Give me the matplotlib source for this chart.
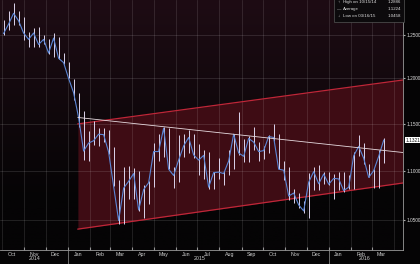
import matplotlib
matplotlib.use("Agg")
import matplotlib.pyplot as plt
import matplotlib.dates as mdates
from matplotlib.patches import Rectangle
import numpy as np
import pandas as pd

plt.rcParams["font.family"] = ["Liberation Sans", "DejaVu Sans"]

# ---- data (EUR/USD weekly) ----
week_end = ["2014-10-03","2014-10-10","2014-10-17","2014-10-24","2014-10-31",
            "2014-11-07","2014-11-14","2014-11-21","2014-11-28",
            "2014-12-05","2014-12-12","2014-12-19","2014-12-26","2015-01-02",
            "2015-01-09","2015-01-16","2015-01-23","2015-01-30",
            "2015-02-06","2015-02-13","2015-02-20","2015-02-27",
            "2015-03-06","2015-03-13","2015-03-20","2015-03-27",
            "2015-04-03","2015-04-10","2015-04-17","2015-04-24",
            "2015-05-01","2015-05-08","2015-05-15","2015-05-22","2015-05-29",
            "2015-06-05","2015-06-12","2015-06-19","2015-06-26",
            "2015-07-03","2015-07-10","2015-07-17","2015-07-24","2015-07-31",
            "2015-08-07","2015-08-14","2015-08-21","2015-08-28",
            "2015-09-04","2015-09-11","2015-09-18","2015-09-25",
            "2015-10-02","2015-10-09","2015-10-16","2015-10-23","2015-10-30",
            "2015-11-06","2015-11-13","2015-11-20","2015-11-27",
            "2015-12-04","2015-12-11","2015-12-18","2015-12-25","2016-01-01",
            "2016-01-08","2016-01-15","2016-01-22","2016-01-29",
            "2016-02-05","2016-02-12","2016-02-19","2016-02-26",
            "2016-03-04","2016-03-11","2016-03-18"]
close = [1.2520,1.2630,1.2760,1.2670,1.2525,
         1.2450,1.2525,1.2390,1.2450,
         1.2290,1.2465,1.2230,1.2180,1.2000,
         1.1840,1.1565,1.1205,1.1290,
         1.1315,1.1385,1.1380,1.1195,
         1.0840,1.0495,1.0820,1.0890,
         1.0970,1.0600,1.0805,1.0875,
         1.1200,1.1200,1.1450,1.1015,1.0950,
         1.1110,1.1260,1.1350,1.1165,
         1.1110,1.1160,1.0830,1.0980,1.0985,
         1.0970,1.1100,1.1385,1.1185,
         1.1150,1.1340,1.1300,1.1200,
         1.1210,1.1360,1.1350,1.1015,1.1005,
         1.0740,1.0770,1.0650,1.0590,
         1.0880,1.0990,1.0865,1.0965,1.0860,
         1.0920,1.0915,1.0795,1.0830,
         1.1155,1.1255,1.1130,1.0930,
         1.1000,1.1150,1.1321]
high = [1.2680,1.2790,1.2887,1.2790,1.2720,
        1.2540,1.2580,1.2600,1.2500,
        1.2460,1.2530,1.2480,1.2290,1.2190,
        1.1990,1.1840,1.1640,1.1420,
        1.1530,1.1450,1.1450,1.1430,
        1.1250,1.0900,1.1040,1.1050,
        1.1030,1.1000,1.0850,1.0890,
        1.1290,1.1390,1.1465,1.1450,1.1040,
        1.1380,1.1385,1.1435,1.1390,
        1.1280,1.1215,1.1200,1.0990,1.1130,
        1.1000,1.1215,1.1385,1.1630,
        1.1330,1.1370,1.1460,1.1300,
        1.1260,1.1380,1.1495,1.1390,1.1100,
        1.1040,1.0815,1.0770,1.0690,
        1.0980,1.1040,1.1060,1.0990,1.0990,
        1.0970,1.0990,1.0990,1.0950,
        1.1200,1.1375,1.1290,1.1070,
        1.1020,1.1220,1.1342]
low = [1.2500,1.2560,1.2620,1.2615,1.2440,
       1.2360,1.2360,1.2360,1.2390,
       1.2280,1.2250,1.2220,1.2160,1.2000,
       1.1755,1.1460,1.1115,1.1100,
       1.1270,1.1260,1.1300,1.1170,
       1.0840,1.0460,1.0460,1.0710,
       1.0710,1.0590,1.0520,1.0660,
       1.0830,1.1100,1.1140,1.1020,1.0820,
       1.0880,1.1140,1.1190,1.1130,
       1.0960,1.0915,1.0810,1.0810,1.0915,
       1.0850,1.0960,1.1020,1.1160,
       1.1090,1.1090,1.1220,1.1105,
       1.1120,1.1180,1.1310,1.1015,1.0900,
       1.0700,1.0670,1.0620,1.0570,
       1.0524,1.0800,1.0805,1.0860,1.0850,
       1.0710,1.0800,1.0780,1.0810,
       1.0810,1.1150,1.1070,1.0930,
       1.0820,1.0820,1.1080]

channel_dates = ["2015-01-15", "2016-04-14"]
channel_upper = [1.1496, 1.1982]
channel_lower = [1.0410, 1.0873]
trend_dates = ["2015-01-15", "2016-04-14"]
trend_vals = [1.1566, 1.1190]

y_ticks = [1.05, 1.10, 1.15, 1.20, 1.25]
month_labels = ["Oct","Nov","Dec","Jan","Feb","Mar","Apr","May","Jun","Jul",
                "Aug","Sep","Oct","Nov","Dec","Jan","Feb","Mar"]
year_labels = ["2014", "2015", "2016"]
year_label_dates = ["2014-11-15", "2015-07-05", "2016-02-20"]
legend_rows = [("\u2191", "High on 10/15/14", "1.2886"),
               ("\u2014", "Average", "1.1224"),
               ("\u2193", "Low on 03/16/15", "1.0458")]
last_label = "1.1321"

# ---- figure ----
W, H = 420, 264
fig = plt.figure(figsize=(W/100, H/100), dpi=100, facecolor="#050405")
ax_pos = [0, 14/H, 403/W, 250/H]

bg = fig.add_axes(ax_pos, zorder=-1)
grad = np.linspace(0, 1, 256).reshape(-1, 1)
top = np.array([0x1e, 0x0c, 0x14]) / 255
bot = np.array([0x05, 0x04, 0x05]) / 255
t = np.clip(grad / 0.8, 0, 1)
img = (top * (1 - t) + bot * t).reshape(256, 1, 3)
bg.imshow(img, aspect="auto", extent=[0, 1, 0, 1])
bg.axis("off")

ax = fig.add_axes(ax_pos)
ax.set_facecolor("none")
ax.set_yscale("log")

d = pd.to_datetime(week_end)
xd = mdates.date2num(d)
cd = mdates.date2num(pd.to_datetime(channel_dates))
td = mdates.date2num(pd.to_datetime(trend_dates))

ax.fill_between(cd, channel_lower, channel_upper, color="#3e0c14", zorder=1, lw=0)
ax.plot(cd, channel_upper, color="#c02638", lw=0.9, zorder=3)
ax.plot(cd, channel_lower, color="#c02638", lw=0.9, zorder=3)

ax.vlines(xd, low, high, color="#dcd4ec", lw=0.7, zorder=4)
ax.plot(xd, close, color="#5b86d6", lw=0.8, zorder=5)

ax.plot(td, trend_vals, color="#e6dadf", lw=0.6, zorder=6)

x0 = mdates.date2num(pd.Timestamp("2014-09-28"))
x1 = mdates.date2num(pd.Timestamp("2016-04-14"))
ax.set_xlim(x0, x1)
ax.set_ylim(1.0207, 1.2921)

# grid
month_starts = pd.date_range("2014-10-01", "2016-04-01", freq="MS")
for m in month_starts:
    ax.axvline(mdates.date2num(m), color="white", alpha=0.15, lw=0.5, zorder=2)
for yv in y_ticks:
    ax.axhline(yv, color="white", alpha=0.16, lw=0.5, zorder=2)

# x ticks
ax.set_xticks(mdates.date2num(month_starts[1:-1]))
ax.set_xticklabels([])
mid_months = month_starts[:-1] + pd.Timedelta(days=14)
ax.set_xticks(mdates.date2num(mid_months), minor=True)
ax.set_xticklabels(month_labels, minor=True)
ax.tick_params(axis="x", which="major", length=2, color="#888888", direction="in")
ax.tick_params(axis="x", which="minor", length=0, labelsize=3.8, labelcolor="#cfcfcf", pad=1.2)

# y ticks right
ax.yaxis.tick_right()
ax.set_yticks(y_ticks)
ax.set_yticks([], minor=True)
ax.set_yticklabels([f"{v:.4f}" for v in y_ticks])
ax.tick_params(axis="y", length=1.5, color="#aaaaaa", labelsize=3.4, labelcolor="#dddddd", pad=1)

for s in ["top", "left"]:
    ax.spines[s].set_visible(False)
ax.spines["bottom"].set_color("#9a9a9a")
ax.spines["bottom"].set_linewidth(0.6)
ax.spines["right"].set_color("#9a9a9a")
ax.spines["right"].set_linewidth(0.6)

# year labels and separators
for lab, dd in zip(year_labels, year_label_dates):
    xx = mdates.date2num(pd.Timestamp(dd))
    ax.text(xx, -9/250, lab, transform=ax.get_xaxis_transform(), ha="center",
            va="center", fontsize=3.8, color="#cfcfcf")
for dd in ["2015-01-01", "2016-01-01"]:
    xx = mdates.date2num(pd.Timestamp(dd))
    ax.plot([xx, xx], [0, -14/250], transform=ax.get_xaxis_transform(),
            color="#9a9a9a", lw=0.5, clip_on=False)

# last price box
ax.annotate(last_label, xy=(1.0, close[-1]), xycoords=("axes fraction", "data"),
            xytext=(2, 0), textcoords="offset points", ha="left", va="center",
            fontsize=3.4, color="#111111",
            bbox=dict(boxstyle="square,pad=0.15", fc="white", ec="none"))

# legend box
fig.add_artist(Rectangle((334/W, 1 - 22/H), 70/W, 24/H, transform=fig.transFigure,
                         fc="#0c0a0c", ec="#555555", lw=0.5))
for i, (sym, lab, val) in enumerate(legend_rows):
    yy = 1 - (2 + 7 * i) / H
    fig.text(337/W, yy, sym, fontsize=3.2, color="#dddddd", va="center", ha="left")
    fig.text(343/W, yy, lab, fontsize=3.2, color="#dddddd", va="center", ha="left")
    fig.text(401/W, yy, val, fontsize=3.2, color="#dddddd", va="center", ha="right")

fig.savefig("out.png", dpi=100, facecolor=fig.get_facecolor())
